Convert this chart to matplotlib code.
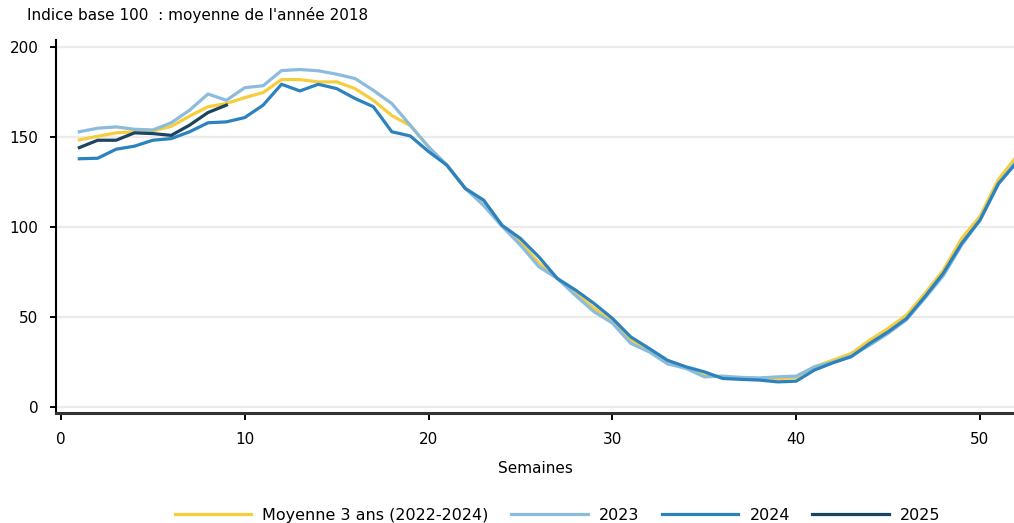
# plot.py
# weekly index (base 100 = 2018 average): 3-year mean vs 2023, 2024, 2025

import matplotlib
matplotlib.use('Agg')
import matplotlib.pyplot as plt

weeks = list(range(1, 53))

avg_3y = [148.5, 150.5, 152.4, 153, 153.5, 156, 161.7, 166.9, 168.7, 172,
          174.8, 182, 182, 180.7, 180.7, 177, 170.5, 162, 156.5, 144.5,
          134.4, 121.5, 113, 100.5, 91.8, 80, 71.5, 63, 55, 47.4,
          37.2, 31.5, 25, 22, 17.8, 16.8, 16, 15.6, 15.8, 16.4,
          22.4, 26.1, 29.8, 37.2, 43.7, 51.1, 63.1, 76, 93.7, 106,
          126.5, 139.5]

y2023 = [153, 155, 155.7, 154.4, 154, 158, 165, 174, 170.5, 177.5,
         178.6, 187, 187.6, 186.9, 185, 182.6, 176, 168.7, 156.7, 144.6,
         134.4, 121.5, 112, 100.5, 90, 78, 71.5, 62, 53, 46.7,
         35.4, 30.7, 24, 21.5, 16.8, 17.2, 16.5, 16.2, 16.8, 17.2,
         22.4, 25, 28.5, 34.4, 41, 48.5, 60.5, 73, 90, 104,
         124, 137]

y2024 = [138, 138.3, 143.3, 145, 148.3, 149.2, 153, 158, 158.5, 160.9,
         167.8, 179.4, 175.7, 179.4, 177, 171.5, 166.9, 153, 150.7, 142,
         134.4, 121.5, 115, 101, 93.7, 83.5, 71.5, 65, 57.6, 49.3,
         39, 32.6, 26, 22.4, 19.6, 15.9, 15.4, 15, 14, 14.4,
         20.6, 24.6, 28, 35.4, 41.8, 49.2, 61.3, 74.3, 90.9, 103.9,
         124.1, 136]

y2025 = [144.2, 148.3, 148.3, 152.4, 152, 151, 156.7, 163.7, 167.8]

fig = plt.figure(figsize=(10.14, 5.23), dpi=100)
ax = fig.add_axes([0.0552, 0.2103, 0.9448, 0.7132])

ax.plot(weeks, avg_3y, color='#F6CD3C', lw=2.3, label='Moyenne 3 ans (2022-2024)')
ax.plot(weeks, y2023, color='#8BBBDD', lw=2.3, label='2023')
ax.plot(weeks, y2024, color='#2C82BE', lw=2.3, label='2024')
ax.plot(weeks[:len(y2025)], y2025, color='#1B4461', lw=2.3, label='2025')

ax.set_xlim(-0.27, 51.85)
ax.set_ylim(-3.3, 204)
ax.set_xticks([0, 10, 20, 30, 40, 50])
ax.set_yticks([0, 50, 100, 150, 200])
ax.grid(axis='y', color='#ebebeb', lw=1.6)
ax.set_axisbelow(True)

for s in ['top', 'right']:
    ax.spines[s].set_visible(False)
ax.spines['left'].set_linewidth(1.5)
ax.spines['bottom'].set_linewidth(2.2)
ax.spines['bottom'].set_color('#333333')
ax.tick_params(axis='y', direction='out', length=4.5, width=1.4, labelsize=11, pad=8)
ax.tick_params(axis='x', direction='out', length=5, width=1.4, labelsize=11, pad=9)

ax.set_xlabel('Semaines', fontsize=11, labelpad=10)
fig.text(27 / 1014, 1 - 15 / 523, "Indice base 100  : moyenne de l'année 2018",
         fontsize=11, va='center', ha='left')

fig.legend(loc='center', bbox_to_anchor=(0.55, 0.015), ncol=4, frameon=False,
           fontsize=11.5, handlelength=4.8, columnspacing=1.4, handletextpad=0.7)

fig.savefig('out.png', dpi=100)
